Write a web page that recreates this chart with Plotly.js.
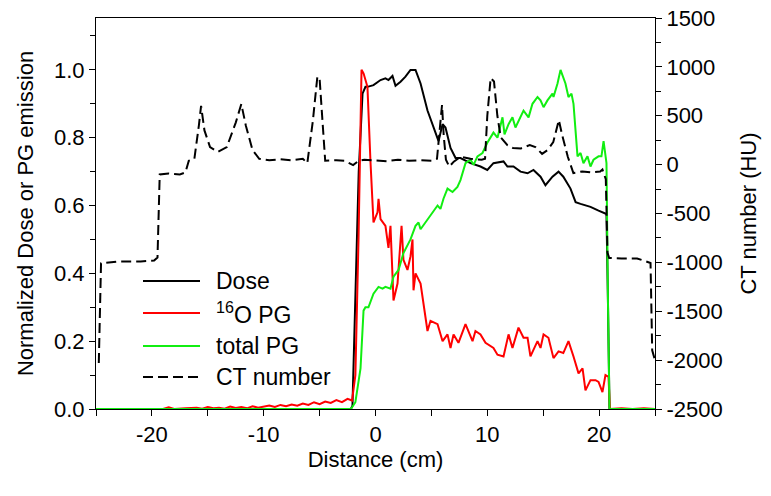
<!DOCTYPE html>
<html>
<head>
<meta charset="utf-8">
<script src="https://cdn.plot.ly/plotly-3.0.1.min.js"></script>
<style>html,body{margin:0;padding:0;background:#fff;}#chart{width:771px;height:496px;}</style>
</head>
<body>
<div id="chart"></div>
<script>
// ---- Data ----
var seriesNames = ["Dose", "<sup>16</sup>O PG", "total PG", "CT number"];

var doseX = [-25, -2.2, -2.06, -1.8, -1.5, -1.16, -0.9, -0.72, -0.18, 0.45, 0.89, 1.16, 1.52, 1.79, 2.24, 2.68, 3.13, 3.58, 4.03, 4.65, 5.19, 5.64, 6.0, 6.26, 6.71, 7.16, 7.6, 8.5, 9.39, 10.0, 10.55, 11.45, 11.8, 12.34, 12.97, 13.6, 14.13, 14.76, 15.2, 15.83, 16.37, 16.8, 17.44, 17.9, 18.34, 19.23, 19.95, 20.4, 20.66, 20.8, 20.93, 25];
var doseY = [0, 0, 0.01, 0.3, 0.7, 0.93, 0.95, 0.95, 0.955, 0.97, 0.975, 0.97, 0.982, 0.953, 0.965, 0.98, 1.0, 1.0, 0.96, 0.88, 0.83, 0.79, 0.84, 0.83, 0.77, 0.74, 0.74, 0.725, 0.715, 0.705, 0.725, 0.73, 0.715, 0.715, 0.70, 0.695, 0.705, 0.685, 0.66, 0.685, 0.70, 0.685, 0.65, 0.61, 0.605, 0.596, 0.585, 0.58, 0.575, 0.3, 0, 0];

var o16X = [-25, -19, -18.5, -18, -17, -16, -15.5, -15, -14.5, -14, -13.5, -13, -12.5, -12, -11.5, -11, -10.5, -10, -9.5, -9, -8.5, -8, -7.5, -7, -6.5, -6, -5.5, -5, -4.5, -4, -3.5, -3, -2.5, -2.1, -1.8, -1.52, -1.25, -1.07, -0.72, -0.45, -0.27, -0.18, 0.18, 0.27, 0.45, 0.89, 1.16, 1.34, 1.61, 1.97, 2.33, 2.5, 2.86, 3.13, 3.31, 3.4, 3.58, 4.03, 4.65, 4.92, 5.55, 6.0, 6.44, 6.71, 6.98, 7.42, 8.05, 8.68, 8.94, 9.39, 9.84, 10.55, 10.91, 11.45, 11.9, 12.25, 12.79, 13.24, 13.6, 13.86, 14.49, 14.76, 15.03, 15.47, 15.92, 16.37, 16.8, 17.26, 17.71, 18.16, 18.52, 18.78, 19.23, 19.68, 19.95, 20.3, 20.57, 20.84, 20.97, 22, 23, 24, 25];
var o16Y = [0, 0, 0.005, 0, 0.002, 0.004, 0.001, 0.006, 0.002, 0.004, 0.001, 0.007, 0.003, 0.006, 0.002, 0.008, 0.004, 0.006, 0.01, 0.006, 0.012, 0.008, 0.013, 0.01, 0.016, 0.012, 0.02, 0.014, 0.022, 0.018, 0.026, 0.02, 0.03, 0.025, 0.1, 0.5, 1.0, 0.99, 0.95, 0.73, 0.62, 0.55, 0.58, 0.62, 0.56, 0.54, 0.475, 0.54, 0.32, 0.37, 0.54, 0.44, 0.41, 0.45, 0.5, 0.35, 0.4, 0.37, 0.23, 0.26, 0.25, 0.2, 0.22, 0.18, 0.22, 0.195, 0.25, 0.2, 0.23, 0.22, 0.195, 0.18, 0.16, 0.155, 0.22, 0.18, 0.24, 0.21, 0.21, 0.155, 0.2, 0.18, 0.22, 0.21, 0.15, 0.17, 0.165, 0.2, 0.155, 0.105, 0.12, 0.055, 0.085, 0.085, 0.08, 0.05, 0.1, 0.095, 0, 0.002, 0, 0.002, 0];

var totX = [-25, -2.2, -1.8, -1.6, -1.34, -1.07, -0.9, -0.63, -0.18, 0.27, 0.63, 0.89, 1.34, 1.61, 2.06, 2.5, 3.13, 3.58, 3.85, 4.03, 4.47, 4.92, 5.55, 5.81, 6.08, 6.44, 6.89, 7.33, 7.6, 8.05, 8.5, 8.77, 9.12, 9.57, 10.0, 10.55, 10.91, 11.36, 11.54, 11.9, 12.25, 12.52, 12.97, 13.24, 13.69, 14.04, 14.49, 14.76, 15.03, 15.38, 15.83, 15.92, 16.28, 16.55, 16.99, 17.26, 17.53, 17.71, 18.07, 18.34, 18.6, 18.96, 19.23, 19.5, 19.95, 20.21, 20.4, 20.66, 20.8, 20.93, 25];
var totY = [0, 0, 0.02, 0.06, 0.12, 0.29, 0.3, 0.3, 0.34, 0.36, 0.355, 0.36, 0.355, 0.39, 0.41, 0.46, 0.5, 0.54, 0.55, 0.53, 0.55, 0.57, 0.6, 0.59, 0.62, 0.65, 0.64, 0.655, 0.675, 0.725, 0.735, 0.72, 0.745, 0.755, 0.785, 0.815, 0.8, 0.86, 0.81, 0.84, 0.86, 0.83, 0.86, 0.88, 0.86, 0.9, 0.92, 0.91, 0.89, 0.91, 0.93, 0.92, 0.96, 1.0, 0.96, 0.92, 0.93, 0.9, 0.745, 0.755, 0.725, 0.745, 0.715, 0.735, 0.745, 0.745, 0.79, 0.725, 0.3, 0, 0];

var ctX = [-24.75, -24.55, -23, -21, -19.8, -19.5, -19.3, -18.5, -17.5, -17, -16.7, -16.2, -15.8, -15.6, -15.3, -14.8, -14.1, -13.3, -12.5, -12.0, -11.6, -11.0, -10.4, -9.5, -8.5, -7.5, -6.5, -6.1, -5.6, -5.2, -5.0, -4.7, -4.5, -3.5, -2.8, -2.0, -1.5, -1.0, 0, 1, 2, 3, 4, 5, 5.5, 5.8, 5.95, 6.1, 6.3, 6.6, 7.0, 7.6, 8.5, 9.5, 9.8, 10.0, 10.3, 10.6, 10.9, 11.2, 11.8, 12.3, 13.0, 13.8, 14.3, 14.9, 15.4, 15.9, 16.3, 16.4, 16.7, 17.2, 17.7, 18.5, 19.3, 20.1, 20.3, 20.6, 20.75, 20.9, 22, 23.4, 24.2, 24.6, 24.75, 25];
var ctY = [-2030, -1010, -990, -990, -980, -950, -100, -90, -100, -80, 40, 60, 400, 600, 350, 180, 130, 180, 430, 620, 400, 150, 60, 45, 55, 45, 60, 15, 450, 900, 880, 300, 40, 45, 40, -5, 40, 50, 40, 35, 50, 40, 45, 40, 60, 400, 610, 300, 50, -20, 30, 80, 60, 50, 60, 500, 886, 850, 500, 280, 200, 170, 165, 200, 180, 110, 150, 230, 400, 456, 300, 80, -86, -70, -80, -70, -50, -150, -900, -955, -960, -960, -990, -1006, -1900, -2000];

var xTicks = [-20, -10, 0, 10, 20];
var yTicks = [0.0, 0.2, 0.4, 0.6, 0.8, 1.0];
var y2Ticks = [-2500, -2000, -1500, -1000, -500, 0, 500, 1000, 1500];

// ---- Styles ----
var FONT = "Liberation Sans, Arial, sans-serif";
var colors = ["#000000", "#ff0000", "#11ee11", "#000000"];
var dashes = ["solid", "solid", "solid", "10px,5px"];

var traces = [
  {x: ctX, y: ctY, yaxis: "y2", mode: "lines", name: "CT number", line: {color: colors[3], width: 2, dash: dashes[3]}, showlegend: false},
  {x: doseX, y: doseY, mode: "lines", name: "Dose", line: {color: colors[0], width: 2}, showlegend: false},
  {x: o16X, y: o16Y, mode: "lines", name: "16O PG", line: {color: colors[1], width: 2}, showlegend: false},
  {x: totX, y: totY, mode: "lines", name: "total PG", line: {color: colors[2], width: 2}, showlegend: false}
];

// custom legend (long line samples as in the reference)
var W = 771, H = 496, ml = 96, mr = 116, mt = 18, mb = 87;
var pw = W - ml - mr, ph = H - mt - mb;
function px2x(p) { return (p - ml) / pw; }
function py2y(p) { return 1 - (p - mt) / ph; }
var legRows = [281, 313, 346, 377];
var shapes = [], annotations = [];
[0, 1, 2, 3].forEach(function (k, i) {
  shapes.push({type: "line", xref: "paper", yref: "paper", x0: px2x(143), x1: px2x(200), y0: py2y(legRows[i]), y1: py2y(legRows[i]),
    line: {color: colors[k], width: 2, dash: dashes[k]}});
  annotations.push({xref: "paper", yref: "paper", x: px2x(214), y: py2y(legRows[i]), xanchor: "left", yanchor: "middle",
    text: seriesNames[k], showarrow: false, font: {family: FONT, size: 23, color: "#000"}});
});

function lbl(v, d) { return v.toFixed(d); } // plain hyphen-minus labels as in the reference

var layout = {
  width: W, height: H,
  margin: {l: ml, r: mr, t: mt, b: mb, pad: 0},
  paper_bgcolor: "#fff", plot_bgcolor: "#fff",
  font: {family: FONT, color: "#000"},
  showlegend: false,
  xaxis: {
    range: [-25, 25], tickvals: xTicks, ticktext: xTicks.map(function (v) { return lbl(v, 0); }),
    ticks: "outside", ticklen: 6, tickwidth: 1, tickcolor: "#000",
    minor: {dtick: 5, ticks: "outside", ticklen: 6, tickcolor: "#000", tickwidth: 1},
    showline: true, linecolor: "#000", linewidth: 1, mirror: true, showgrid: false, zeroline: false,
    tickfont: {family: FONT, size: 22}, title: {text: "Distance (cm)", font: {family: FONT, size: 22}, standoff: 2}
  },
  yaxis: {
    range: [0, 1.153], tickvals: yTicks, ticktext: yTicks.map(function (v) { return lbl(v, 1); }),
    ticks: "outside", ticklen: 6, tickwidth: 1, tickcolor: "#000",
    minor: {dtick: 0.1, ticks: "outside", ticklen: 5, tickcolor: "#000", tickwidth: 1},
    showline: true, linecolor: "#000", linewidth: 1, showgrid: false, zeroline: false,
    tickfont: {family: FONT, size: 22}, title: {text: "Normalized Dose or PG emission", font: {family: FONT, size: 22}, standoff: 14}
  },
  yaxis2: {
    range: [-2500, 1500], overlaying: "y", side: "right", tickvals: y2Ticks, ticktext: y2Ticks.map(function (v) { return lbl(v, 0); }),
    ticks: "outside", ticklen: 6, tickwidth: 1, tickcolor: "#000",
    minor: {dtick: 250, ticks: "outside", ticklen: 5, tickcolor: "#000", tickwidth: 1},
    showline: true, linecolor: "#000", linewidth: 1, showgrid: false, zeroline: false,
    tickfont: {family: FONT, size: 22}, title: {text: "CT number (HU)", font: {family: FONT, size: 22}, standoff: 18}
  },
  shapes: shapes,
  annotations: annotations
};

Plotly.newPlot("chart", traces, layout, {staticPlot: true, displayModeBar: false});
</script>
</body>
</html>
